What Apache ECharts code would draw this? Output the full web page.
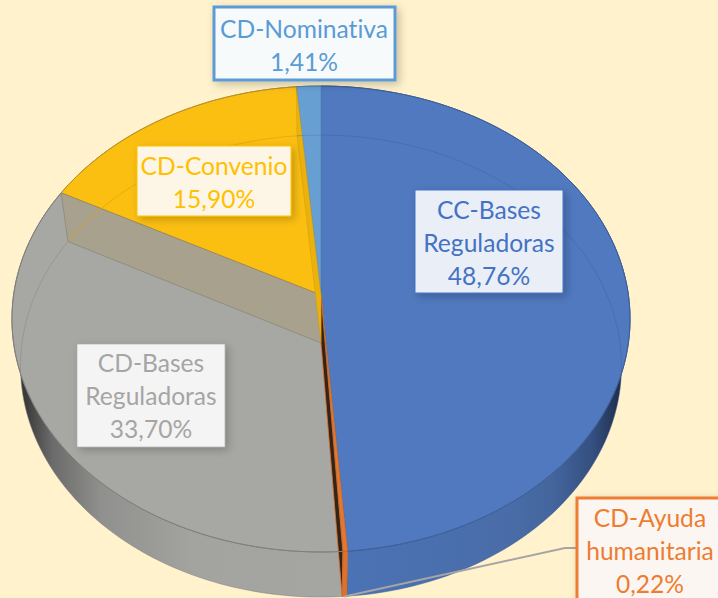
<!DOCTYPE html>
<html>
<head>
<meta charset="utf-8">
<style>html,body{margin:0;padding:0;background:#FFF2CC}#c{width:718px;height:598px}#c text{font-variant-ligatures:none !important}</style>
<script src="https://cdn.jsdelivr.net/npm/echarts@6/dist/echarts.min.js"></script>
</head>
<body>
<div id="c"></div>
<script>
const categories = ['CC-Bases Reguladoras', 'CD-Ayuda humanitaria', 'CD-Bases Reguladoras', 'CD-Convenio', 'CD-Nominativa'];
const labelLines = [['CC-Bases', 'Reguladoras'], ['CD-Ayuda', 'humanitaria'], ['CD-Bases', 'Reguladoras'], ['CD-Convenio'], ['CD-Nominativa']];
const values = [48.76, 0.22, 33.70, 15.90, 1.41];

const faceColors = ['#5079BF', '#E8772E', '#A7A7A4', '#FBBF12', '#689FD2'];
const textColors = ['#4472C4', '#ED7D31', '#A5A5A5', '#FFC000', '#5B9BD5'];
const edgeColors = ['#3D6098', '#C8651F', '#7F7F7C', '#B8912A', '#4F86BC'];
const ringColors = ['rgba(60,100,170,0.6)', 'rgba(0,0,0,0)', 'rgba(130,130,128,0.5)', 'rgba(225,165,10,0.8)', 'rgba(80,130,190,0.7)'];
const endWallColors = [null, '#33241A', '#A8A18D', '#EBB20E', null];
const endWallEdges = [null, '#E0702A', 'rgba(90,85,70,0.35)', 'rgba(200,150,10,0.5)', null];
const wallStops = [
  [[0, '#4B73B6'], [0.6, '#4A6DA9'], [0.75, '#44659D'], [0.88, '#344F80'], [0.96, '#22324F'], [1, '#1F2C45']],
  [[0, '#E0702A'], [1, '#E0702A']],
  [[0, '#333333'], [0.04, '#3A3A3A'], [0.12, '#6A6A6A'], [0.27, '#90908E'], [0.55, '#A3A3A0'], [1, '#A5A5A2']],
  [[0, '#FBBF12'], [1, '#FBBF12']],
  [[0, '#689FD2'], [1, '#689FD2']]
];
const boxes = [
  {x: 415, y: 190, w: 148, h: 103, fill: '#EAEFF7', border: 1, tx: 489, ty: 242},
  {x: 577, y: 498, w: 150, h: 120, fill: '#FCF6F2', border: 3, tx: 650, ty: 550},
  {x: 77, y: 344, w: 148, h: 103, fill: '#F4F4F4', border: 0.6, tx: 151, ty: 395},
  {x: 137, y: 146, w: 154, h: 70, fill: '#FDF6E6', border: 1, tx: 214, ty: 182},
  {x: 214, y: 7, w: 181, h: 73, fill: '#F7FAFB', border: 3, tx: 304, ty: 45}
];

// Perspective projection of the pie's top and bottom discs
const topDisc = {cx: 321, cy: 295, a: 307.4, b: 230.5, k: 0.103};
const botDisc = {cx: 321, cy: 343, a: 299, b: 228.7, k: 0.1};
const ringVisible = 97; // the far ring shows through only this far either side of the top
function proj(d, deg) {
  const t = deg * Math.PI / 180, u = Math.sin(t), v = Math.cos(t), w = 1 + d.k * v;
  return [d.cx + d.a * u / w, d.cy - d.b * v / w];
}
const total = values.reduce((s, v) => s + v, 0);
function range(i) {
  let s = 0;
  for (let j = 0; j < i; j++) s += values[j];
  return [s / total * 360, (s + values[i]) / total * 360];
}
function arc(d, a0, a1) {
  const pts = [], n = Math.max(2, Math.ceil((a1 - a0) / 1.5));
  for (let i = 0; i <= n; i++) pts.push(proj(d, a0 + (a1 - a0) * i / n));
  return pts;
}
const data = categories.map((name, i) => ({name, value: values[i]}));
const fmt = v => v.toFixed(2).replace('.', ',') + '%';
const empty = {type: 'group', children: []};
function layer(render, z) {
  return {type: 'custom', coordinateSystem: 'none', data, z, silent: true, animation: false, renderItem: render};
}

const wallLayer = (p) => {
  const i = p.dataIndex, [a0, a1] = range(i);
  const pts = arc(topDisc, a0, a1).concat(arc(botDisc, a0, a1).reverse());
  return {type: 'polygon', shape: {points: pts}, style: {
    fill: new echarts.graphic.LinearGradient(0, 0, 1, 0, wallStops[i].map(s => ({offset: s[0], color: s[1]}))),
    stroke: edgeColors[i], lineWidth: 0.5}};
};
const faceLayer = (p) => {
  const i = p.dataIndex, [a0, a1] = range(i);
  const pts = [[topDisc.cx, topDisc.cy]].concat(arc(topDisc, a0, a1));
  return {type: 'polygon', shape: {points: pts}, style: {fill: faceColors[i], stroke: edgeColors[i], lineWidth: 0.6}};
};
const endWallLayer = (p) => {
  const i = p.dataIndex, a1 = range(i)[1];
  if (!endWallColors[i]) return empty;
  const pts = [[topDisc.cx, topDisc.cy], proj(topDisc, a1), proj(botDisc, a1), [botDisc.cx, botDisc.cy]];
  return {type: 'polygon', shape: {points: pts}, style: {fill: endWallColors[i], stroke: endWallEdges[i], lineWidth: 0.8}};
};
const ringLayer = (p) => {
  const i = p.dataIndex, [a0, a1] = range(i);
  const s = Math.min(a1, ringVisible), e = Math.max(a0, 360 - ringVisible);
  let pts = null;
  if (a0 < ringVisible) pts = arc(botDisc, a0, s);
  else if (a1 > 360 - ringVisible) pts = arc(botDisc, e, a1);
  if (!pts) return empty;
  return {type: 'polyline', shape: {points: pts}, style: {fill: null, stroke: ringColors[i], lineWidth: 0.9}};
};
const rimLayer = (p) => {
  const i = p.dataIndex, [a0, a1] = range(i);
  return {type: 'polyline', shape: {points: arc(topDisc, a0, a1)}, style: {fill: null, stroke: edgeColors[i], lineWidth: 1}};
};
const labelLayer = (p) => {
  const i = p.dataIndex, b = boxes[i];
  const text = labelLines[i].concat(fmt(values[i])).join('\n');
  return {type: 'group', children: [
    {type: 'rect', shape: {x: b.x, y: b.y, width: b.w, height: b.h}, style: {
      fill: b.fill, stroke: textColors[i], lineWidth: b.border,
      shadowBlur: 8, shadowOffsetX: 3, shadowOffsetY: 3, shadowColor: 'rgba(0,0,0,0.22)'}},
    {type: 'text', style: {text, x: b.tx, y: b.ty, align: 'center', verticalAlign: 'middle',
      font: '24.6px Lato', lineHeight: 33, fill: textColors[i]}}
  ]};
};
const leaderLayer = (p) => {
  if (p.dataIndex !== 1) return empty;
  const [a0, a1] = range(1), e = proj(botDisc, (a0 + a1) / 2);
  return {type: 'polyline', shape: {points: [e, [565, 548], [577, 548]]}, style: {fill: null, stroke: '#A5A5A5', lineWidth: 2}};
};

const chart = echarts.init(document.getElementById('c'), null, {renderer: 'svg'});
chart.setOption({
  backgroundColor: '#FFF2CC',
  animation: false,
  series: [
    layer(wallLayer, 1), layer(faceLayer, 2), layer(endWallLayer, 3),
    layer(ringLayer, 4), layer(rimLayer, 5), layer(leaderLayer, 6), layer(labelLayer, 7)
  ]
});
</script>
</body>
</html>
